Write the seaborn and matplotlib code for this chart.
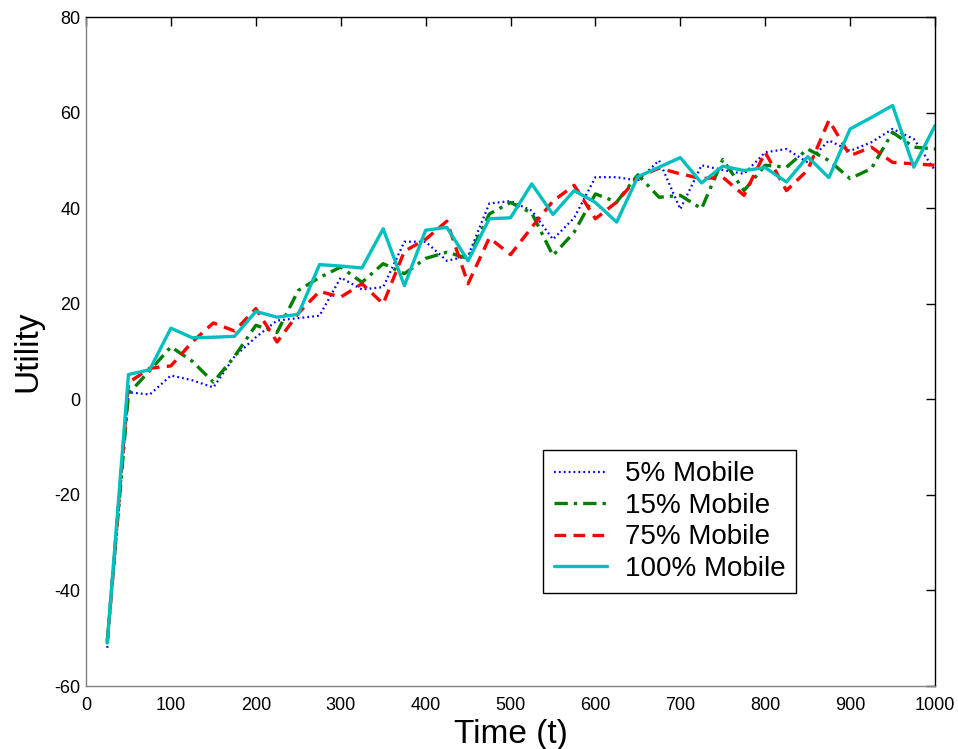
import pandas as pd
import matplotlib
matplotlib.use('Agg')
import matplotlib.pyplot as plt
import seaborn as sns

time = list(range(25, 1001, 25))

# Utility per mobility level.
mobile_5 = [-52, 1.5, 1, 5, 4, 2.5, 9, 13, 16.5, 17, 17.5, 25.5, 23, 23.5, 33, 33, 29, 30, 41, 41.5,
            39.5, 33.5, 38, 46.5, 46.5, 45.8, 50, 39.8, 49, 48, 47.2, 51.7, 52.4, 49.6, 54.2, 52, 53.8, 56.6, 54.5, 47.9]
mobile_15 = [-50.5, 1.2, 6, 11, 8, 3.6, 9, 15.5, 14, 22.8, 25.5, 27.7, 24.5, 28.4, 26.3, 29.5, 30.8, 29.5, 38.8, 41.2,
             39, 30.1, 35, 43, 41.3, 47, 42.3, 42.7, 39.9, 50.2, 43.7, 49, 48.6, 52.4, 50, 46.2, 48.3, 55.9, 52.8, 52.4]
mobile_75 = [-51, 3.5, 6.5, 7, 12, 16, 14.3, 19, 12, 18, 22.6, 21.4, 24.2, 20, 31, 33.5, 37.3, 24.2, 33.8, 30.3,
             36, 41.5, 44.8, 37.8, 41.3, 46.5, 48.4, 47.2, 46.2, 46.5, 42.7, 51.7, 43.7, 48, 58.4, 51, 52.8, 49.6, 49.3, 49]
mobile_100 = [-51, 5.2, 6.2, 14.9, 12.9, 13, 13.2, 18.4, 17.2, 17.8, 28.2, 27.9, 27.5, 35.7, 23.8, 35.4, 36, 29, 37.8, 38,
              45.1, 38.7, 43.7, 41.2, 37.1, 46.6, 48.6, 50.6, 45.3, 48.8, 47.9, 48.5, 45.5, 50.8, 46.4, 56.6, 59, 61.5, 48.6, 57.3]

labels = ['5% Mobile', '15% Mobile', '75% Mobile', '100% Mobile']
colors = ['#0000ff', '#007f00', '#ff0000', '#00bfbf']
styles = [(0, (0.8, 1.4)), (0, (4, 1.8, 1, 1.8)), (0, (3.5, 2.2)), '-']
widths = [1.6, 2.4, 2.4, 2.4]

sns.set_style('white')
plt.rcParams['font.family'] = ['Liberation Sans', 'DejaVu Sans']
plt.rcParams['axes.unicode_minus'] = False
plt.rcParams['text.color'] = 'black'
plt.rcParams['axes.labelcolor'] = 'black'

fig = plt.figure(figsize=(9.58, 7.49), dpi=100)
ax = fig.add_axes([0.0898, 0.0841, 0.8862, 0.893])

for vals, lab, col, ls, lw in zip([mobile_5, mobile_15, mobile_75, mobile_100], labels, colors, styles, widths):
    df = pd.DataFrame({'t': time, 'u': vals})
    sns.lineplot(data=df, x='t', y='u', ax=ax, color=col, linestyle=ls, linewidth=lw, label=lab)

ax.set_xlim(0, 1000)
ax.set_ylim(-60, 80)
ax.set_xticks(range(0, 1001, 100))
ax.set_yticks(range(-60, 81, 20))
ax.tick_params(axis='both', direction='in', length=6.5, width=1, labelsize=13,
               top=True, right=True, colors='black')
ax.tick_params(axis='x', pad=8)
ax.tick_params(axis='y', pad=4)
ax.set_xlabel('Time (t)', fontsize=24)
ax.set_ylabel('Utility', fontsize=24)
ax.xaxis.set_label_coords(0.5, -0.049)
ax.yaxis.set_label_coords(-0.0506, 0.5)

for side in ['left', 'bottom']:
    ax.spines[side].set_color('#808080')
for side in ['top', 'right']:
    ax.spines[side].set_color('black')
for s in ax.spines.values():
    s.set_linewidth(1)
    s.set_visible(True)

leg = ax.legend(loc='lower left', bbox_to_anchor=(0.538, 0.139), borderaxespad=0,
                fontsize=20, fancybox=False, edgecolor='black', framealpha=1,
                handlelength=1.9, handletextpad=0.65, labelspacing=0.2, borderpad=0.4)
leg.get_frame().set_linewidth(1)

fig.savefig('out.png', dpi=100)
